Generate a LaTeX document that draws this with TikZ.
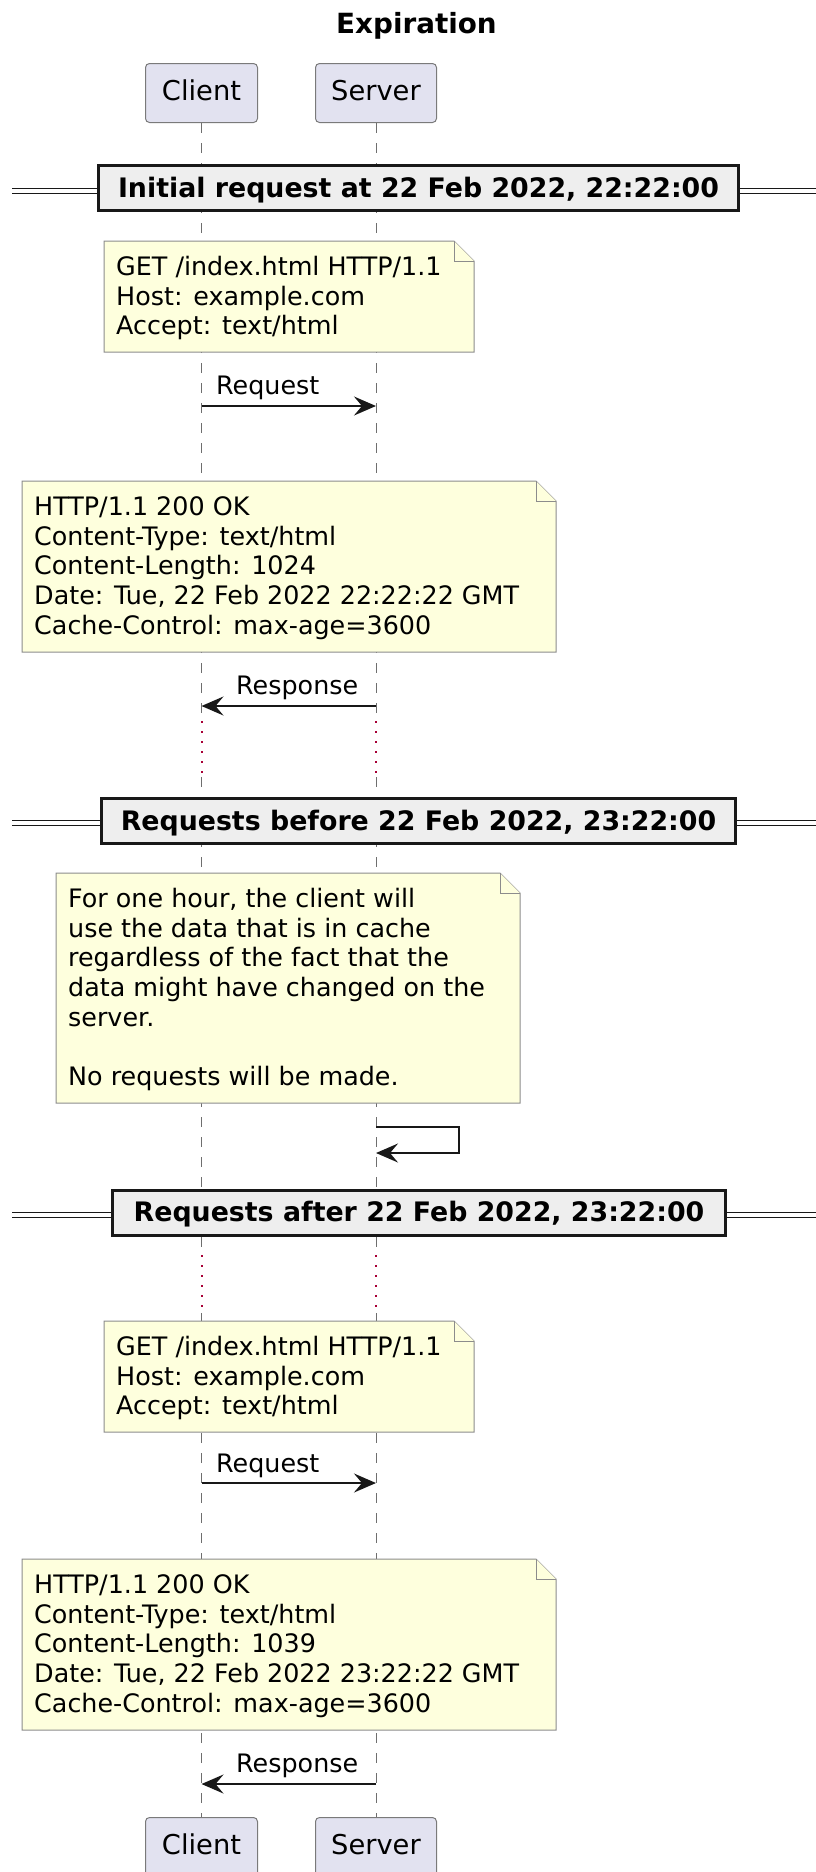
\documentclass[tikz,border=0pt]{standalone}
\usepackage{fontspec}
\setmainfont{DejaVu Sans}
\usetikzlibrary{arrows.meta}
\definecolor{notefill}{HTML}{FEFFDD}
\definecolor{noteline}{HTML}{8C8C8C}
\definecolor{partfill}{HTML}{E2E2F0}
\definecolor{partline}{HTML}{7A7A7A}
\definecolor{sepfill}{HTML}{EEEEEE}
\definecolor{sepcol}{HTML}{181818}
\definecolor{msgcol}{HTML}{181818}
\definecolor{lifecol}{HTML}{6E6E6E}
\definecolor{delaycol}{HTML}{A80036}
\newcommand\notefnt{\fontsize{25.4pt}{29.6pt}\selectfont}
\newcommand\partfnt{\fontsize{27.3pt}{32pt}\selectfont}
\newcommand\sepfnt{\bfseries\fontsize{26.8pt}{32pt}\selectfont}
\newcommand\titlefnt{\bfseries\fontsize{27.8pt}{32pt}\selectfont}
\newcommand\firstline{\rule{0pt}{22pt}}
\newcommand\drawnote[4]{%
  \draw[notebody] (#1,#2) -- ({#3-20},#2) -- (#3,{#2+20}) -- (#3,#4) -- (#1,#4) -- cycle;
  \draw[notebody] ({#3-20},#2) -- ({#3-20},{#2+20}) -- (#3,{#2+20});
}
\tikzset{
  partbox/.style={draw=partline, fill=partfill, rounded corners=4pt, line width=1pt,
    font=\partfnt, inner sep=0pt, text height=20pt, text depth=6pt, minimum height=59pt},
  lifeline/.style={draw=lifecol, line width=1pt, dash pattern=on 10pt off 10pt},
  delayline/.style={draw=delaycol, line width=2pt, dash pattern=on 2pt off 8pt},
  notebody/.style={draw=noteline, fill=notefill, line width=1pt, line join=miter},
  notetext/.style={font=\notefnt, align=left, inner sep=0pt, anchor=north west},
  sepbox/.style={draw=sepcol, fill=sepfill, line width=3pt, font=\sepfnt, inner sep=0pt,
    text height=20pt, text depth=2pt, minimum height=45pt},
  sepline/.style={draw=sepcol, line width=1.5pt},
  msg/.style={draw=msgcol, line width=1.8pt, -{Stealth[length=22pt,width=19pt,inset=8pt]}},
  msglabel/.style={font=\notefnt, inner sep=0pt, anchor=base west},
  titlestyle/.style={font=\titlefnt, inner sep=0pt, anchor=base}
}
\begin{document}
\begin{tikzpicture}[x=1pt,y=-1pt]
\useasboundingbox (0,0) rectangle (816,1872);
\clip (0,0) rectangle (816,1872);

% title
\node[titlestyle] (title) at (416.5,33) {Expiration};

% participants
\node[partbox, minimum width=112pt] (ctop) at (201.5,93) {Client};
\node[partbox, minimum width=121pt] (stop) at (376,93) {Server};
\node[partbox, minimum width=112pt] (cbot) at (201.5,1847) {Client};
\node[partbox, minimum width=121pt] (sbot) at (376,1847) {Server};

% lifelines
\foreach \lx/\tn/\bn in {201.5/ctop/cbot, 376/stop/sbot}{
  \draw[lifeline] (\tn.south) -- (\lx,716);
  \draw[delayline] (\lx,721) -- (\lx,776);
  \draw[lifeline] (\lx,777) -- (\lx,1249);
  \draw[delayline] (\lx,1255) -- (\lx,1310);
  \draw[lifeline] (\lx,1313) -- (\bn.north);
}

% separator 1
\draw[sepline] (12,188.5) -- (816,188.5);
\draw[sepline] (12,193.5) -- (816,193.5);
\node[sepbox, minimum width=640pt] (sep1) at (418.5,188) {Initial request at 22 Feb 2022, 22:22:00};

% note 1
\drawnote{104}{241}{474}{352}
\node[notetext] (n1) at (116,253.5) {\firstline GET /index.html HTTP/1.1\\Host: example.com\\Accept: text/html};

% request 1
\coordinate (creq1) at (201.5,406);
\coordinate (sreq1) at (376,406);
\draw[msg] (creq1) -- (sreq1);
\node[msglabel] (lreq1) at (216,394) {Request};

% note 2
\drawnote{22}{481}{556}{652}
\node[notetext] (n2) at (34,493.5) {\firstline HTTP/1.1 200 OK\\Content-Type: text/html\\Content-Length: 1024\\Date: Tue, 22 Feb 2022 22:22:22 GMT\\Cache-Control: max-age=3600};

% response 1
\coordinate (sres1) at (376,706);
\coordinate (cres1) at (201.5,706);
\draw[msg] (sres1) -- (cres1);
\node[msglabel] (lres1) at (236,694) {Response};

% separator 2
\draw[sepline] (12,820.5) -- (816,820.5);
\draw[sepline] (12,825.5) -- (816,825.5);
\node[sepbox, minimum width=634pt] (sep2) at (418.5,821) {Requests before 22 Feb 2022, 23:22:00};

% note 3
\drawnote{56}{873}{520}{1103}
\node[notetext] (n3) at (68,885.5) {\firstline For one hour, the client will\\use the data that is in cache\\regardless of the fact that the\\data might have changed on the\\server.\\\mbox{}\\No requests will be made.};

% self message
\coordinate (sself1) at (376,1127);
\coordinate (sself2) at (376,1153);
\draw[msg] (sself1) -- (459,1127) |- (sself2);

% separator 3
\draw[sepline] (12,1212.5) -- (816,1212.5);
\draw[sepline] (12,1217.5) -- (816,1217.5);
\node[sepbox, minimum width=613pt] (sep3) at (419,1212.5) {Requests after 22 Feb 2022, 23:22:00};

% note 4
\drawnote{104}{1321}{474}{1432}
\node[notetext] (n4) at (116,1333.5) {\firstline GET /index.html HTTP/1.1\\Host: example.com\\Accept: text/html};

% request 2
\coordinate (creq2) at (201.5,1483);
\coordinate (sreq2) at (376,1483);
\draw[msg] (creq2) -- (sreq2);
\node[msglabel] (lreq2) at (216,1472) {Request};

% note 5
\drawnote{22}{1559}{556}{1730}
\node[notetext] (n5) at (34,1571.5) {\firstline HTTP/1.1 200 OK\\Content-Type: text/html\\Content-Length: 1039\\Date: Tue, 22 Feb 2022 23:22:22 GMT\\Cache-Control: max-age=3600};

% response 2
\coordinate (sres2) at (376,1784);
\coordinate (cres2) at (201.5,1784);
\draw[msg] (sres2) -- (cres2);
\node[msglabel] (lres2) at (236,1772) {Response};
\end{tikzpicture}
\end{document}
